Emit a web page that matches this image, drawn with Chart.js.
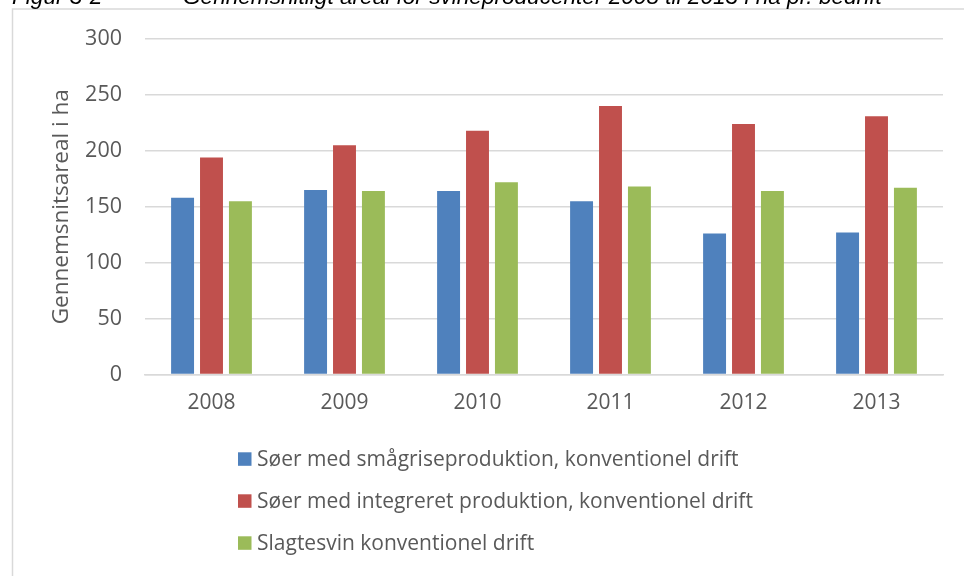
<!DOCTYPE html>
<html>
<head>
<meta charset="utf-8">
<script src="https://cdn.jsdelivr.net/npm/chart.js@4/dist/chart.umd.min.js"></script>
<style>
html,body{margin:0;padding:0;background:#fff;}
canvas{display:block;}
</style>
</head>
<body>
<canvas id="c" width="964" height="576"></canvas>
<script>
const categories = ['2008', '2009', '2010', '2011', '2012', '2013'];
const seriesNames = [
  'Søer med smågriseproduktion, konventionel drift',
  'Søer med integreret produktion, konventionel drift',
  'Slagtesvin konventionel drift'
];
const soerSmaagrise = [158, 165, 164, 155, 126, 127];
const soerIntegreret = [194, 205, 218, 240, 224, 231];
const slagtesvin = [155, 164, 172, 168, 164, 167];
const yTicks = [0, 50, 100, 150, 200, 250, 300];
const yTitle = 'Gennemsnitsareal i ha';
const figLabel = 'Figur 3-2';
const figTitle = 'Gennemsnitligt areal for svineproducenter 2008 til 2013 i ha pr. bedrift';

const colors = ['#4f81bd', '#c0504d', '#9bbb59'];
const textColor = '#595959';
const gridColor = '#d9d9d9';
const FONT = "'Open Sans', sans-serif";

const framePlugin = {
  id: 'frame',
  beforeDraw(chart) {
    const ctx = chart.ctx;
    ctx.save();
    ctx.fillStyle = '#fff';
    ctx.fillRect(0, 0, chart.width, chart.height);
    ctx.strokeStyle = gridColor;
    ctx.lineWidth = 1.5;
    ctx.strokeRect(12.5, 9, 1000, 700);
    ctx.fillStyle = '#000';
    ctx.font = "italic 22.6px 'Liberation Sans', Arial, sans-serif";
    ctx.textBaseline = 'alphabetic';
    ctx.textAlign = 'left';
    ctx.fillText(figLabel, 12, 4);
    ctx.fillText(figTitle, 183, 4);
    ctx.restore();
  }
};

const legendPlugin = {
  id: 'customLegend',
  afterDraw(chart) {
    const ctx = chart.ctx;
    ctx.save();
    ctx.font = '21px ' + FONT;
    ctx.textBaseline = 'middle';
    ctx.textAlign = 'left';
    chart.data.datasets.forEach((ds, i) => {
      const cy = 459 + i * 42;
      ctx.fillStyle = ds.backgroundColor;
      ctx.fillRect(238, cy - 6.7, 13.5, 13.5);
      ctx.fillStyle = textColor;
      ctx.fillText(ds.label, 257, cy + 1);
    });
    ctx.restore();
  }
};

new Chart(document.getElementById('c'), {
  type: 'bar',
  data: {
    labels: categories,
    datasets: [
      { label: seriesNames[0], data: soerSmaagrise, backgroundColor: colors[0] },
      { label: seriesNames[1], data: soerIntegreret, backgroundColor: colors[1] },
      { label: seriesNames[2], data: slagtesvin, backgroundColor: colors[2] }
    ]
  },
  options: {
    responsive: false,
    devicePixelRatio: 1,
    animation: false,
    datasets: { bar: { categoryPercentage: 0.6525, barPercentage: 0.793 } },
    layout: { padding: { top: 39, right: 21, left: 0, bottom: 0 } },
    plugins: { legend: { display: false }, tooltip: { enabled: false } },
    scales: {
      x: {
        grid: { display: false, drawTicks: false },
        border: { display: true, color: gridColor, width: 1.5 },
        ticks: { color: textColor, font: { family: FONT, size: 21 }, padding: 16 },
        afterFit(scale) { scale.height = 201.5; }
      },
      y: {
        min: 0, max: 300,
        afterBuildTicks(scale) { scale.ticks = yTicks.map(v => ({ value: v })); },
        grid: { color: gridColor, lineWidth: 1.5, drawTicks: false },
        border: { display: false },
        ticks: { color: textColor, font: { family: FONT, size: 21.5 }, padding: 23 },
        title: {
          display: true, text: yTitle, color: textColor,
          font: { family: FONT, size: 22.5 }, padding: { top: 48, bottom: 0 }
        },
        afterFit(scale) { scale.width = 145; }
      }
    }
  },
  plugins: [framePlugin, legendPlugin]
});
</script>
</body>
</html>
